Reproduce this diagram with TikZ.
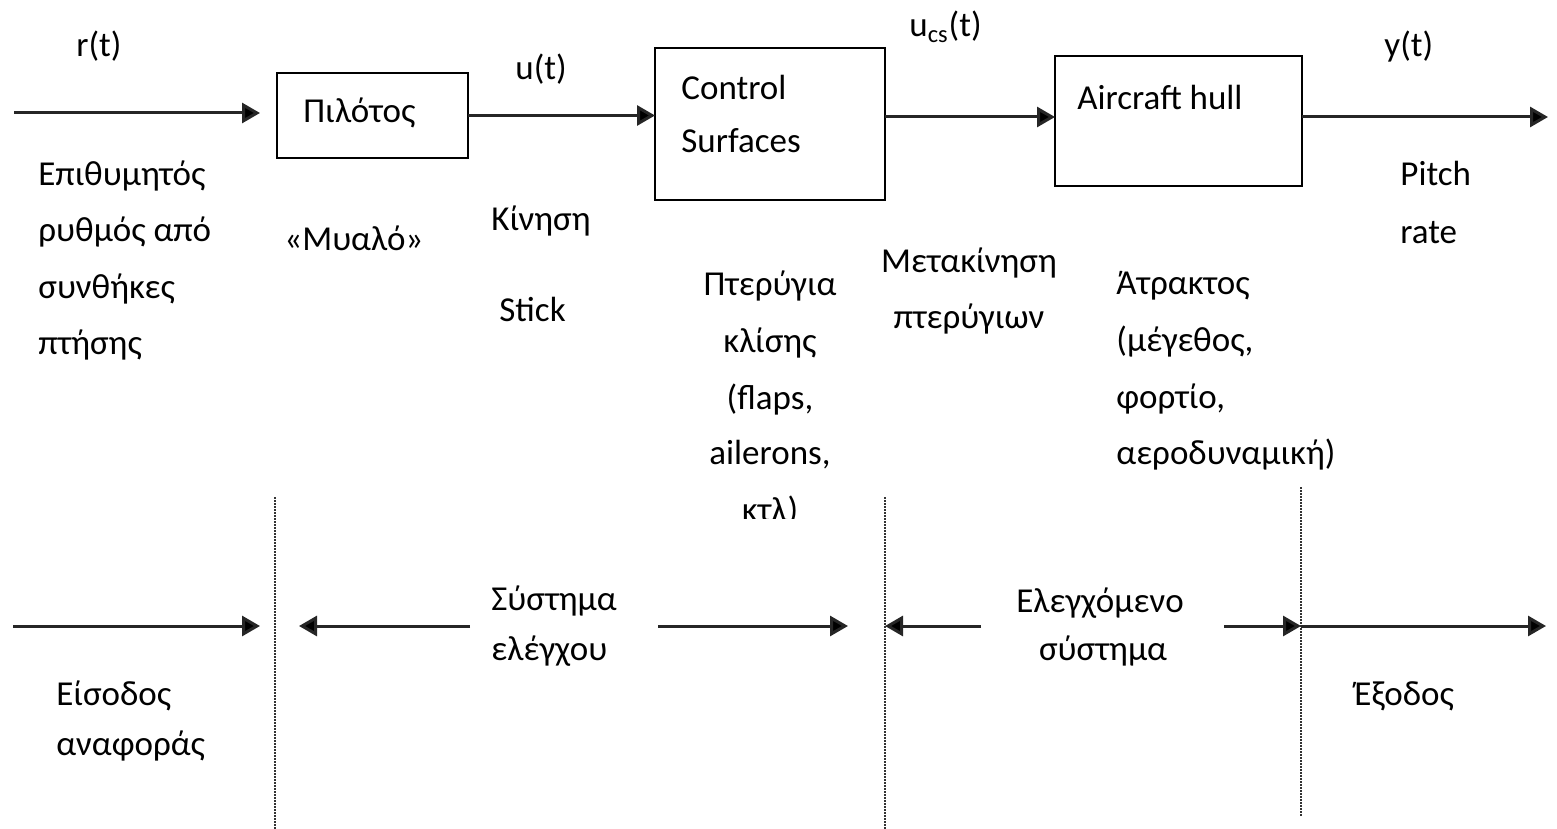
\documentclass[tikz,border=0pt]{standalone}
\usepackage{fontspec}
\setmainfont{Carlito}
\usetikzlibrary{arrows.meta}
\begin{document}
\begin{tikzpicture}[x=0.5pt,y=-0.5pt,
 txt/.style={inner sep=0pt, anchor=base west, font=\fontsize{17.5}{20}\selectfont},
 ctxt/.style={txt, anchor=base},
 blk/.style={draw=black, line width=1pt, inner sep=0pt, outer sep=0pt, rectangle},
 arr/.style={line width=1.5pt, draw=black!85, -{Triangle[length=9pt,width=10pt,fill=black]}},
 sep/.style={draw=black!80, line width=0.8pt, dash pattern=on 0.75pt off 0.75pt}]
\useasboundingbox (0,0) rectangle (1557,829);

% blocks
\node[blk, minimum width=95.5pt, minimum height=42.5pt] (pilot) at (372.5,115.5) {};
\node[blk, minimum width=115pt, minimum height=76pt] (cs) at (770,124) {};
\node[blk, minimum width=123.5pt, minimum height=65pt] (ah) at (1178.5,121) {};

\node[txt] (pilotT) at (303,123) {Πιλότος};
\node[txt] (csT1) at (681,99) {Control};
\node[txt] (csT2) at (681,153) {Surfaces};
\node[txt] (ahT) at (1077,110) {Aircraft hull};

% top connectors
\coordinate (in) at (14,113);
\coordinate (ylev) at (0,117);
\coordinate (out) at (1548,117);
\draw[arr, shorten >=8.5pt] (in) -- (in -| pilot.west);
\draw[arr] (pilot.east) -- (pilot.east -| cs.west);
\draw[arr] (cs.east |- ylev) -- (ah.west |- ylev);
\draw[arr] (ah.east |- out) -- (out);

% signal labels
\node[txt] (r) at (76,57) {r(t)};
\node[txt] (u) at (515,80) {u(t)};
\node[txt] (ucs) at (909,37) {u\textsubscript{cs}(t)};
\node[txt] (y) at (1384,57) {y(t)};

% descriptions
\node[txt] (d1a) at (38,185) {Επιθυμητός};
\node[txt] (d1b) at (38,241.5) {ρυθμός από};
\node[txt] (d1c) at (38,298) {συνθήκες};
\node[txt] (d1d) at (38,354.5) {πτήσης};

\node[txt] (mind) at (284,250) {«Μυαλό»};

\node[txt] (kin) at (491,230) {Κίνηση};
\node[txt] (stick) at (499,321) {Stick};

\node[ctxt] (p1) at (770,295) {Πτερύγια};
\node[ctxt] (p2) at (770,352) {κλίσης};
\node[ctxt] (p3) at (770,409) {(flaps,};
\node[ctxt] (p4) at (770,464) {ailerons,};
\begin{scope}
\clip (600,470) rectangle (950,518);
\node[ctxt] (p5) at (770,521) {κτλ)};
\end{scope}

\node[ctxt] (m1) at (969,272) {Μετακίνηση};
\node[ctxt] (m2) at (969,328) {πτερύγιων};

\node[txt] (a1) at (1116,294) {Άτρακτος};
\node[txt] (a2) at (1116,351) {(μέγεθος,};
\node[txt] (a3) at (1116,408) {φορτίο,};
\node[txt] (a4) at (1116,464) {αεροδυναμική)};

\node[txt] (pitch) at (1400,185) {Pitch};
\node[txt] (rate) at (1400,243) {rate};

% separators
\coordinate (s1t) at (275,497);
\coordinate (s1b) at (275,829);
\coordinate (s2t) at (885,497);
\coordinate (s2b) at (885,829);
\coordinate (s3t) at (1301,487);
\coordinate (s3b) at (1301,817);
\draw[sep] (s1t) -- (s1b);
\draw[sep] (s2t) -- (s2b);
\draw[sep] (s3t) -- (s3b);

% bottom arrows
\coordinate (b0) at (13,626);
\coordinate (b1) at (470,626);
\coordinate (b2) at (658,626);
\coordinate (b3) at (981,626);
\coordinate (b4) at (1224,626);
\coordinate (b5) at (1546,626);
\draw[arr, shorten >=7.5pt] (b0) -- (b0 -| s1t);
\draw[arr, shorten >=12pt] (b1) -- (b1 -| s1t);
\draw[arr, shorten >=18.5pt] (b2) -- (b2 -| s2t);
\draw[arr] (b3) -- (b3 -| s2t);
\draw[arr] (b4) -- (b4 -| s3t);
\draw[arr] (b4 -| s3t) -- (b5);

% bottom labels
\node[txt] (sys1) at (491,610) {Σύστημα};
\node[txt] (sys2) at (491,660) {ελέγχου};
\node[ctxt] (pl1) at (1100,612) {Ελεγχόμενο};
\node[ctxt] (pl2) at (1103,660) {σύστημα};
\node[txt] (inp1) at (56,705) {Είσοδος};
\node[txt] (inp2) at (56,755) {αναφοράς};
\node[txt] (outp) at (1354,705) {Έξοδος};
\end{tikzpicture}
\end{document}
